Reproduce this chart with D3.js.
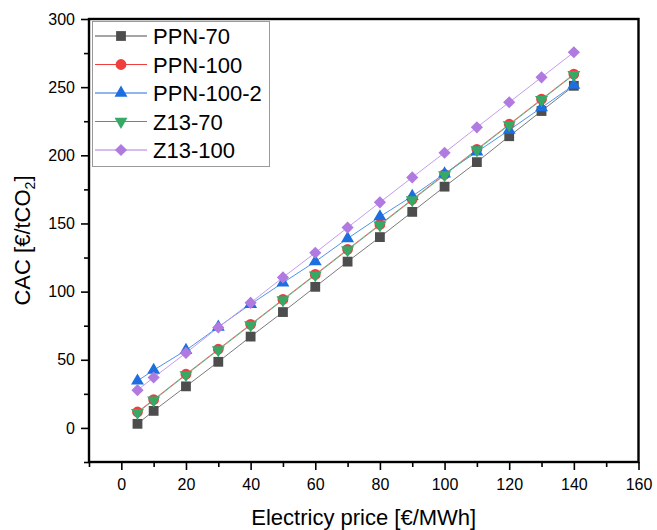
<!DOCTYPE html>
<html>
<head>
<meta charset="utf-8">
<script src="https://cdn.jsdelivr.net/npm/d3@7/dist/d3.min.js"></script>
<style>
  html, body { margin: 0; padding: 0; background: #fff; }
  svg { display: block; font-family: "Liberation Sans", Arial, sans-serif; }
</style>
</head>
<body>
<svg id="chart" width="657" height="530"></svg>
<script>
// ---- data ----
const prices = [5, 10, 20, 30, 40, 50, 60, 70, 80, 90, 100, 110, 120, 130, 140];
const seriesNames = ["PPN-70", "PPN-100", "PPN-100-2", "Z13-70", "Z13-100"];
const ppn70   = [3.0, 12.5, 30.5, 48.5, 67.0, 85.0, 103.5, 122.0, 140.0, 158.5, 177.0, 195.0, 214.0, 232.5, 251.0];
const ppn100  = [11.7, 20.8, 39.4, 57.7, 76.0, 94.3, 112.6, 131.0, 149.3, 167.7, 186.0, 204.4, 222.8, 241.2, 259.6];
const ppn1002 = [34.5, 42.4, 57.0, 74.0, 90.8, 106.5, 122.0, 139.0, 155.0, 170.0, 186.5, 202.5, 218.5, 235.0, 251.5];
const z1370   = [11.2, 20.3, 38.9, 57.2, 75.5, 93.8, 112.1, 130.5, 148.8, 167.2, 185.5, 203.9, 222.3, 240.7, 259.1];
const z13100  = [27.7, 37.0, 55.0, 73.7, 91.8, 110.4, 128.5, 147.0, 165.5, 183.8, 201.9, 220.5, 238.9, 257.2, 275.6];
const seriesValues = [ppn70, ppn100, ppn1002, z1370, z13100];
const xTicks = [0, 20, 40, 60, 80, 100, 120, 140, 160];
const yTicks = [0, 50, 100, 150, 200, 250, 300];

// ---- styles ----
const markerColors = ["#4d4d4d", "#ef3e3e", "#1d6fdf", "#37a967", "#b07ae0"];
const lineColors   = ["#7a7a7a", "#f06a6a", "#4f93ea", "#5fb585", "#c49ded"];
const markerShapes = [
  { type: d3.symbolSquare, size: 96, rot: 0 },
  { type: d3.symbolCircle, size: 92, rot: 0 },
  { type: d3.symbolTriangle, size: 72, rot: 0 },
  { type: d3.symbolTriangle, size: 72, rot: 180 },
  { type: d3.symbolSquare, size: 74, rot: 45 }
];

const svg = d3.select("#chart");
const L = 89, R = 638.5, T = 19, B = 462;

const x = d3.scaleLinear().domain([-10, 160]).range([L, R]);
const y = d3.scaleLinear().domain([-25, 300]).range([B, T]);

// minor ticks
const xMinor = d3.range(-10, 160, 20);
const yMinor = d3.range(-25, 300, 50);

const gx = svg.append("g").attr("transform", `translate(0,${B})`);
gx.call(d3.axisBottom(x).tickValues(xMinor).tickSize(5).tickSizeOuter(0).tickFormat(""));
gx.call(g => g.selectAll(".tick line").attr("stroke-width", 1.6));
const gx2 = svg.append("g").attr("transform", `translate(0,${B})`);
gx2.call(d3.axisBottom(x).tickValues(xTicks).tickSize(8).tickSizeOuter(0).tickPadding(9).tickFormat(d3.format("d")));
gx2.selectAll(".tick line").attr("stroke-width", 1.6);
gx2.selectAll("text").attr("font-size", 16).attr("fill", "#000")
   .attr("font-family", "Liberation Sans, Arial, sans-serif");

const gy = svg.append("g").attr("transform", `translate(${L},0)`);
gy.call(d3.axisLeft(y).tickValues(yMinor).tickSize(5).tickSizeOuter(0).tickFormat(""));
gy.selectAll(".tick line").attr("stroke-width", 1.6);
const gy2 = svg.append("g").attr("transform", `translate(${L},0)`);
gy2.call(d3.axisLeft(y).tickValues(yTicks).tickSize(8).tickSizeOuter(0).tickPadding(6).tickFormat(d3.format("d")));
gy2.selectAll(".tick line").attr("stroke-width", 1.6);
gy2.selectAll("text").attr("font-size", 16).attr("fill", "#000")
   .attr("font-family", "Liberation Sans, Arial, sans-serif");

svg.selectAll(".domain").remove();

// frame
svg.append("rect")
  .attr("x", L).attr("y", T).attr("width", R - L).attr("height", B - T)
  .attr("fill", "none").attr("stroke", "#000").attr("stroke-width", 2.4);

// series
const line = d3.line().x((d, i) => x(prices[i])).y(d => y(d));
seriesValues.forEach((vals, s) => {
  svg.append("path")
    .datum(vals)
    .attr("d", line)
    .attr("fill", "none")
    .attr("stroke", lineColors[s])
    .attr("stroke-width", 1);
});
seriesValues.forEach((vals, s) => {
  const sh = markerShapes[s];
  const sym = d3.symbol().type(sh.type).size(sh.size);
  svg.append("g").selectAll("path")
    .data(vals)
    .join("path")
    .attr("d", sym)
    .attr("transform", (d, i) => `translate(${x(prices[i])},${y(d)}) rotate(${sh.rot})`)
    .attr("fill", markerColors[s]);
});

// legend
const lg = svg.append("g");
lg.append("rect")
  .attr("x", 92.5).attr("y", 21.5).attr("width", 177).attr("height", 145)
  .attr("fill", "#fff").attr("stroke", "#9a9a9a").attr("stroke-width", 1);
seriesNames.forEach((name, s) => {
  const cy = 36 + s * 28.5;
  lg.append("line").attr("x1", 95).attr("x2", 147).attr("y1", cy).attr("y2", cy)
    .attr("stroke", markerColors[s]).attr("stroke-width", 1);
  const sh = markerShapes[s];
  lg.append("path")
    .attr("d", d3.symbol().type(sh.type).size(sh.size))
    .attr("transform", `translate(121,${cy}) rotate(${sh.rot})`)
    .attr("fill", markerColors[s]);
  lg.append("text").attr("x", 153).attr("y", cy + 8)
    .attr("font-size", 22).attr("fill", "#000").text(name);
});

// axis titles
svg.append("text")
  .attr("x", (L + R) / 2).attr("y", 525)
  .attr("text-anchor", "middle").attr("font-size", 22).attr("fill", "#000")
  .text("Electricy price [€/MWh]");

const yt = svg.append("text")
  .attr("transform", `translate(30,${(T + B) / 2}) rotate(-90)`)
  .attr("text-anchor", "middle").attr("font-size", 22).attr("fill", "#000");
yt.append("tspan").text("CAC [€/tCO");
yt.append("tspan").attr("font-size", 14).attr("dy", 5).text("2");
yt.append("tspan").attr("dy", -5).text("]");
</script>
</body>
</html>
